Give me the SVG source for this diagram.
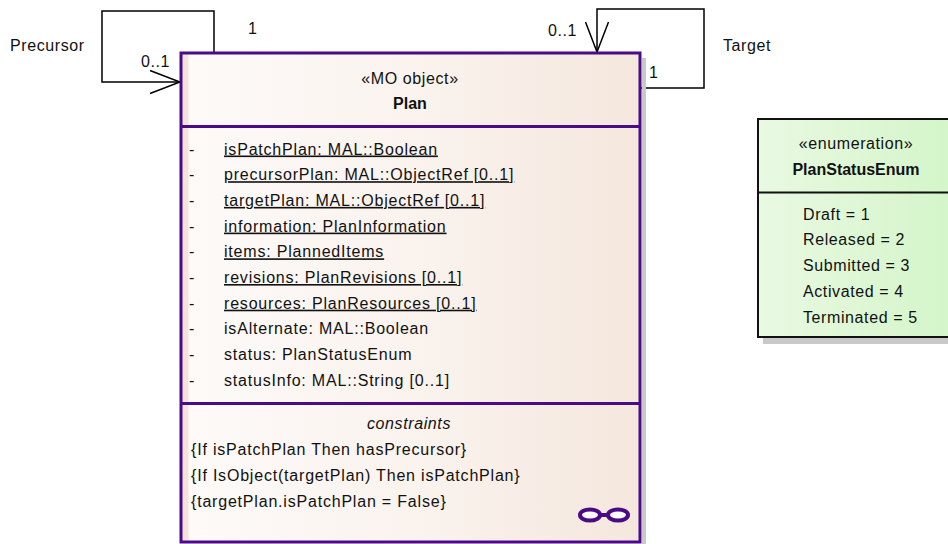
<svg xmlns="http://www.w3.org/2000/svg" width="948" height="544" viewBox="0 0 948 544">
<defs>
<linearGradient id="planFill" x1="0" y1="0" x2="1" y2="0">
<stop offset="0" stop-color="#fdfaf8"/>
<stop offset="0.5" stop-color="#faf3ee"/>
<stop offset="1" stop-color="#f4e7dd"/>
</linearGradient>
<linearGradient id="enumFill" x1="0" y1="0" x2="1" y2="0">
<stop offset="0" stop-color="#e9f9e2"/>
<stop offset="1" stop-color="#d3f5c8"/>
</linearGradient>
<marker id="openArrow" markerUnits="userSpaceOnUse" markerWidth="34" markerHeight="28" viewBox="-2 -2 34 27" refX="30" refY="11.5" orient="auto">
<path d="M0,0 L30,11.5 L0,23" fill="none" stroke="#000" stroke-width="1.5"/>
</marker>
</defs>
<style>
text{font-family:"Liberation Sans",Arial,sans-serif;font-size:16px;fill:#111;letter-spacing:0.6px}
.a{letter-spacing:0.8px}
.b{font-weight:bold;letter-spacing:0}
.i{font-style:italic}
.c{text-anchor:middle}
.u{text-decoration:underline}
.pb{stroke:#4b0a86;stroke-width:3;fill:none}
.conn{fill:none;stroke:#000;stroke-width:1.5}
</style>
<g id="connectors">
<path class="conn" d="M214,52 V11 H102 V82 H180" marker-end="url(#openArrow)"/>
<path class="conn" d="M640,88 H704 V9 H597 V52" marker-end="url(#openArrow)"/>
<text x="10" y="50.5">Precursor</text>
<text x="248" y="33.5">1</text>
<text x="141" y="66.5">0..1</text>
<text x="548" y="36">0..1</text>
<text x="649" y="77.5">1</text>
<text x="723" y="50.5">Target</text>
</g>
<g id="Plan">
<rect x="642" y="58" width="4" height="486" fill="#c9c9c9"/>
<rect x="181" y="53" width="459" height="489" fill="url(#planFill)"/>
<rect x="181.5" y="54" width="7" height="487" fill="#f3e3d8"/>
<rect class="pb" x="181" y="53" width="459" height="489"/>
<line class="pb" x1="181" y1="126.5" x2="640" y2="126.5"/>
<line class="pb" x1="181" y1="403.5" x2="640" y2="403.5"/>
<text class="c" x="410" y="84">«MO object»</text>
<text class="c b" x="410" y="108.5">Plan</text>
<g>
<text x="189" y="154.5">-</text>
<text x="189" y="180.2">-</text>
<text x="189" y="205.9">-</text>
<text x="189" y="231.6">-</text>
<text x="189" y="257.3">-</text>
<text x="189" y="283">-</text>
<text x="189" y="308.7">-</text>
<text x="189" y="334.4">-</text>
<text x="189" y="360.1">-</text>
<text x="189" y="385.8">-</text>
</g>
<text class="u a" x="224" y="154.5">isPatchPlan: MAL::Boolean</text>
<text class="u a" x="224" y="180.2">precursorPlan: MAL::ObjectRef [0..1]</text>
<text class="u a" x="224" y="205.9">targetPlan: MAL::ObjectRef [0..1]</text>
<text class="u a" x="224" y="231.6">information: PlanInformation</text>
<text class="u a" x="224" y="257.3">items: PlannedItems</text>
<text class="u a" x="224" y="283">revisions: PlanRevisions [0..1]</text>
<text class="u a" x="224" y="308.7">resources: PlanResources [0..1]</text>
<text class="a" x="224" y="334.4">isAlternate: MAL::Boolean</text>
<text class="a" x="224" y="360.1">status: PlanStatusEnum</text>
<text class="a" x="224" y="385.8">statusInfo: MAL::String [0..1]</text>
<text class="c i" x="409" y="428.5">constraints</text>
<text class="a" x="191" y="455">{If isPatchPlan Then hasPrecursor}</text>
<text class="a" x="191" y="481">{If IsObject(targetPlan) Then isPatchPlan}</text>
<text class="a" x="191" y="507">{targetPlan.isPatchPlan = False}</text>
<g fill="#fff" stroke="#4b0a86" stroke-width="4">
<line x1="599" y1="515" x2="609" y2="515"/>
<ellipse cx="590" cy="515" rx="10" ry="5.5"/>
<ellipse cx="618" cy="515" rx="10" ry="5.5"/>
</g>
</g>
<g id="PlanStatusEnum">
<rect x="763" y="337" width="190" height="7" fill="#c9c9c9"/>
<rect x="758" y="119" width="200" height="218" fill="url(#enumFill)" stroke="#111" stroke-width="2"/>
<line x1="758" y1="192.5" x2="958" y2="192.5" stroke="#111" stroke-width="2"/>
<text class="c" x="856" y="148.5">«enumeration»</text>
<text class="c b" x="856" y="174.5">PlanStatusEnum</text>
<text x="803" y="219.5">Draft = 1</text>
<text x="803" y="245.3">Released = 2</text>
<text x="803" y="271.1">Submitted = 3</text>
<text x="803" y="296.9">Activated = 4</text>
<text x="803" y="322.7">Terminated = 5</text>
</g>
</svg>
